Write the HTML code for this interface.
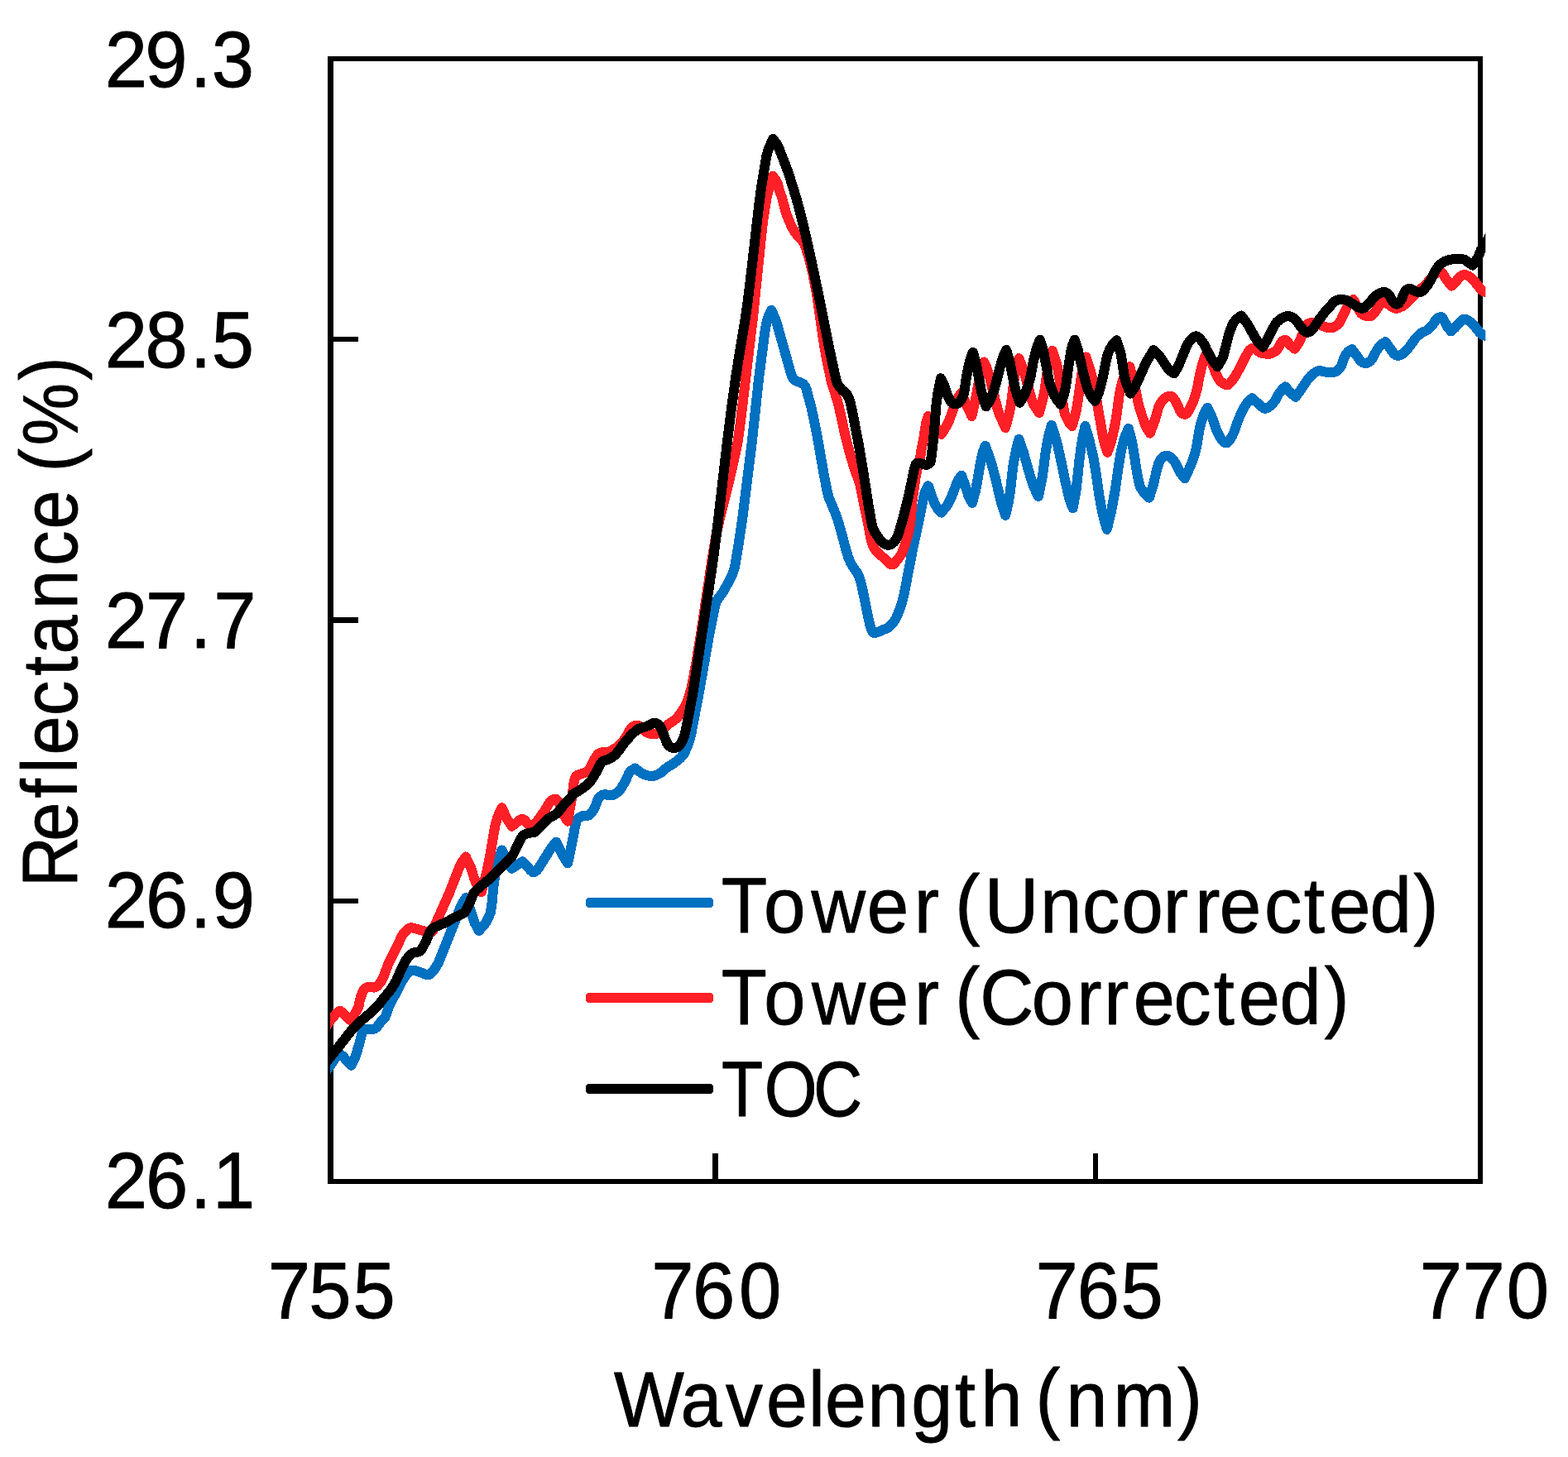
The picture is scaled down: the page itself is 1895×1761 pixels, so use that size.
<!DOCTYPE html>
<html lang="en"><head><meta charset="utf-8"><title>Reflectance vs Wavelength</title>
<style>html,body{margin:0;padding:0;background:#fff;overflow:hidden}svg{display:block}text{white-space:pre;font-family:"Liberation Sans",sans-serif;fill:#000;stroke:#000;stroke-width:0.9px;stroke-linejoin:round}</style></head><body>
<svg width="1895" height="1761" viewBox="0 0 1895 1761" role="img" aria-label="Reflectance (%) versus Wavelength (nm) for Tower (Uncorrected), Tower (Corrected) and TOC">
<rect x="0" y="0" width="1895" height="1761" fill="#fff"/>
<defs><clipPath id="plot"><rect x="399.0" y="0" width="1396.3" height="1761"/></clipPath></defs>
<g fill="#000" shape-rendering="crispEdges">
<rect x="396" y="68" width="7" height="1363"/>
<rect x="1786" y="68" width="6" height="1363"/>
<rect x="397" y="68" width="1395" height="6"/>
<rect x="396" y="1425" width="1396" height="6"/>
<rect x="403" y="407" width="30" height="6"/>
<rect x="403" y="746" width="30" height="7"/>
<rect x="403" y="1086" width="30" height="6"/>
<rect x="861" y="1394" width="7" height="31"/>
<rect x="1321" y="1394" width="6" height="31"/>
</g>
<g clip-path="url(#plot)" fill="none" stroke-width="12" stroke-linecap="round" stroke-linejoin="round" shape-rendering="crispEdges">
<path stroke="#0070C0" d="M392.0 1298.0 L405.0 1279.4 L408.0 1276.0 L410.9 1273.6 L415.0 1277.2 L419.5 1282.5 L424.5 1287.7 L428.0 1281.1 L430.0 1275.9 L434.3 1261.3 L437.3 1249.5 L438.1 1247.2 L439.1 1245.4 L440.1 1244.6 L441.2 1244.1 L443.6 1243.6 L450.0 1243.9 L451.8 1243.6 L453.7 1242.8 L455.2 1241.6 L460.0 1235.4 L464.1 1231.1 L465.4 1229.4 L466.5 1227.0 L469.4 1218.3 L471.6 1213.7 L484.3 1188.9 L486.8 1184.4 L489.3 1180.6 L493.0 1175.6 L495.0 1173.7 L497.3 1172.6 L500.0 1172.5 L503.1 1173.4 L516.0 1178.2 L518.1 1178.2 L520.5 1176.8 L522.9 1174.5 L527.1 1168.6 L529.3 1164.7 L531.3 1160.2 L549.0 1115.8 L555.3 1099.2 L558.3 1092.8 L562.9 1085.2 L568.8 1100.6 L572.5 1112.2 L573.8 1115.7 L578.8 1124.9 L584.9 1118.2 L586.7 1115.7 L590.0 1110.0 L591.4 1106.8 L592.7 1103.0 L594.1 1095.6 L596.6 1069.3 L599.5 1051.3 L600.6 1046.0 L602.6 1038.4 L604.6 1032.2 L606.6 1027.5 L611.0 1037.9 L612.5 1041.0 L618.5 1049.8 L631.4 1041.4 L641.8 1052.4 L643.5 1053.9 L645.3 1054.3 L648.5 1052.3 L651.9 1047.7 L666.2 1024.8 L672.2 1017.6 L680.1 1033.9 L686.1 1043.4 L689.9 1026.0 L695.5 996.8 L696.5 993.1 L697.9 990.2 L699.2 988.8 L700.6 987.7 L703.9 986.2 L705.8 985.8 L709.9 985.8 L711.8 985.2 L713.5 984.0 L715.0 982.3 L717.8 978.3 L719.3 974.9 L722.1 967.3 L723.7 964.3 L725.1 962.9 L728.0 960.9 L729.7 960.4 L732.0 960.3 L737.2 961.4 L739.6 961.4 L741.8 960.6 L743.8 959.5 L745.7 958.1 L747.6 956.4 L749.8 953.9 L751.8 950.9 L755.5 944.5 L759.9 935.0 L761.5 932.5 L762.9 931.3 L767.5 928.6 L773.4 933.2 L775.4 934.5 L779.3 936.4 L781.3 937.0 L785.3 937.8 L789.3 937.8 L791.3 937.5 L795.3 935.9 L799.3 933.5 L807.2 926.6 L810.9 924.8 L817.3 920.4 L822.6 916.0 L825.4 912.9 L826.6 911.1 L830.3 903.3 L834.0 892.5 L835.2 887.8 L844.4 839.6 L858.0 762.4 L864.5 730.9 L865.3 728.3 L866.3 726.1 L868.8 722.2 L873.9 715.6 L879.8 704.7 L885.6 692.9 L886.7 690.0 L888.3 683.7 L892.3 660.2 L897.4 625.2 L908.9 533.2 L917.0 458.1 L923.8 405.4 L925.1 396.7 L926.8 387.9 L928.5 383.0 L932.2 375.0 L936.0 383.0 L938.6 390.0 L955.6 450.3 L957.8 456.4 L958.5 457.8 L959.5 459.0 L960.7 459.9 L968.6 462.8 L970.7 464.0 L973.1 466.7 L974.5 470.2 L980.4 492.2 L984.7 512.1 L988.8 533.6 L995.7 573.5 L999.2 591.6 L1000.9 598.8 L1002.0 602.1 L1009.9 621.1 L1012.2 627.5 L1017.5 646.0 L1022.8 666.0 L1025.6 674.9 L1028.2 680.6 L1031.1 685.6 L1036.6 693.2 L1038.5 697.8 L1040.7 705.2 L1042.0 710.6 L1049.6 747.6 L1051.6 756.3 L1053.2 761.0 L1054.5 763.3 L1055.3 764.2 L1056.2 764.8 L1057.3 765.0 L1061.3 763.9 L1066.4 761.4 L1070.6 759.9 L1073.4 758.4 L1076.2 756.2 L1078.8 753.6 L1082.2 748.6 L1084.2 744.5 L1087.6 735.9 L1090.4 727.0 L1092.9 716.7 L1103.5 661.7 L1111.2 626.5 L1115.6 603.9 L1117.4 596.4 L1118.8 592.4 L1119.5 591.0 L1121.8 587.3 L1126.2 600.5 L1130.1 609.7 L1132.7 614.2 L1137.6 619.7 L1143.8 612.1 L1145.6 609.4 L1147.3 606.3 L1151.6 596.5 L1156.0 584.6 L1157.5 581.2 L1161.9 574.6 L1166.5 586.4 L1170.4 599.4 L1175.0 608.0 L1179.4 591.6 L1183.4 567.9 L1186.3 552.6 L1188.1 545.6 L1190.7 538.8 L1195.7 552.5 L1198.8 562.3 L1203.2 578.6 L1209.2 604.5 L1215.2 622.9 L1219.0 605.8 L1220.1 599.6 L1221.2 591.4 L1224.1 565.5 L1226.0 553.8 L1228.1 543.4 L1231.4 530.9 L1237.0 546.9 L1243.0 568.6 L1247.4 583.0 L1250.4 590.8 L1254.9 600.0 L1259.9 575.8 L1263.8 545.2 L1265.8 534.2 L1267.8 524.5 L1270.8 514.0 L1275.3 527.7 L1278.3 538.8 L1282.7 558.7 L1287.2 580.7 L1291.2 598.0 L1293.7 606.9 L1296.6 614.3 L1300.6 592.1 L1304.6 555.0 L1306.5 540.6 L1308.6 527.9 L1311.5 515.0 L1316.5 531.9 L1321.1 551.4 L1324.1 568.3 L1328.4 598.4 L1330.9 612.2 L1333.4 624.3 L1337.8 639.8 L1342.4 620.9 L1345.4 605.5 L1348.3 588.5 L1352.7 557.8 L1355.4 543.1 L1357.9 533.2 L1359.2 528.8 L1363.8 517.9 L1368.2 534.2 L1374.7 574.7 L1376.2 582.4 L1378.1 588.5 L1379.5 591.1 L1380.9 593.3 L1384.0 596.9 L1388.9 601.7 L1393.9 585.7 L1397.9 568.3 L1400.6 558.9 L1401.9 556.4 L1403.0 554.8 L1405.5 552.2 L1406.8 551.4 L1409.2 550.7 L1411.8 551.0 L1413.8 552.1 L1415.9 553.9 L1417.9 556.1 L1419.8 558.4 L1421.4 561.1 L1425.7 570.3 L1431.7 578.3 L1437.8 565.4 L1439.6 561.1 L1442.9 552.0 L1445.6 542.5 L1446.7 536.6 L1449.6 518.6 L1451.5 511.0 L1453.5 504.5 L1455.7 498.8 L1457.2 496.0 L1459.5 492.8 L1465.5 506.2 L1469.8 518.8 L1471.4 522.6 L1474.3 528.2 L1475.8 530.6 L1478.6 533.7 L1479.8 534.7 L1481.1 535.4 L1482.4 535.5 L1484.1 534.4 L1486.0 532.2 L1489.3 526.6 L1491.0 523.0 L1495.3 510.7 L1498.2 503.5 L1501.2 496.8 L1504.1 491.5 L1507.2 486.9 L1508.6 485.3 L1513.2 481.3 L1525.0 491.7 L1527.0 493.2 L1529.1 493.8 L1531.6 493.1 L1534.2 491.4 L1539.0 486.8 L1540.8 484.5 L1545.0 476.8 L1547.5 473.2 L1549.9 470.2 L1553.3 467.3 L1558.9 473.9 L1565.8 479.9 L1572.8 470.3 L1577.2 463.3 L1580.6 458.6 L1584.6 453.9 L1588.6 450.7 L1592.7 448.5 L1594.7 448.1 L1596.0 448.1 L1600.0 449.3 L1603.5 449.8 L1608.9 450.0 L1612.5 449.8 L1614.2 449.3 L1617.2 447.3 L1619.9 444.3 L1621.5 441.2 L1624.1 433.3 L1625.6 430.1 L1626.6 428.4 L1628.7 425.7 L1629.8 424.6 L1634.1 422.3 L1643.9 435.8 L1645.4 437.2 L1646.8 438.0 L1649.7 439.0 L1651.1 439.1 L1652.6 438.7 L1654.0 438.0 L1656.8 435.8 L1658.4 433.7 L1663.5 424.1 L1666.7 419.3 L1668.8 417.1 L1671.0 415.3 L1674.5 413.1 L1683.7 426.4 L1685.2 428.0 L1687.6 429.4 L1688.9 429.7 L1690.1 429.8 L1691.7 429.5 L1695.0 427.7 L1698.4 424.9 L1703.6 418.8 L1710.7 408.8 L1714.2 405.3 L1717.8 402.4 L1723.2 399.9 L1724.9 398.9 L1726.8 397.3 L1732.0 391.8 L1735.1 386.7 L1736.3 385.4 L1739.0 383.7 L1740.5 383.2 L1741.8 383.2 L1743.0 384.0 L1744.1 385.5 L1749.5 395.2 L1753.6 400.4 L1758.5 396.1 L1762.2 391.4 L1766.2 387.5 L1767.6 386.5 L1769.1 385.9 L1770.4 385.9 L1771.8 386.2 L1774.5 387.3 L1778.0 389.9 L1781.0 392.9 L1788.3 401.9 L1791.4 404.5 L1792.9 405.3 L1795.7 406.1 L1802.0 407.0"/>
<path stroke="#FF1F26" d="M392.0 1244.0 L396.0 1238.5 L399.0 1233.6 L401.8 1230.2 L406.4 1224.9 L408.5 1223.2 L410.9 1221.8 L415.4 1225.0 L421.8 1231.7 L423.6 1233.2 L427.2 1228.2 L432.9 1218.2 L433.5 1216.1 L434.8 1209.1 L436.2 1204.3 L438.5 1198.1 L439.5 1196.5 L441.5 1194.6 L444.1 1193.2 L445.9 1193.0 L451.8 1193.6 L454.4 1192.9 L456.5 1191.3 L460.3 1186.8 L462.1 1183.7 L463.7 1180.0 L469.4 1164.7 L471.7 1159.8 L479.4 1144.8 L485.2 1132.3 L487.3 1128.9 L489.0 1126.7 L492.7 1123.0 L495.0 1121.6 L497.3 1121.3 L499.7 1121.7 L517.1 1126.6 L520.7 1127.0 L522.1 1126.5 L523.4 1124.7 L527.1 1115.0 L543.0 1079.2 L555.3 1047.8 L558.3 1042.0 L562.9 1035.5 L568.8 1048.2 L573.2 1061.6 L574.8 1065.9 L576.4 1069.1 L581.7 1078.2 L587.1 1058.7 L588.7 1052.0 L591.9 1035.6 L597.6 1002.5 L598.6 997.4 L600.5 990.4 L602.6 984.3 L606.6 976.2 L611.5 987.7 L618.5 998.7 L628.5 990.9 L630.0 990.0 L631.4 989.8 L633.0 990.4 L634.5 991.9 L642.4 1000.7 L650.3 991.0 L654.3 985.5 L658.3 979.8 L664.1 970.1 L666.2 967.9 L667.7 966.9 L669.2 966.1 L670.8 965.7 L672.2 965.9 L673.9 967.5 L675.4 970.3 L682.1 986.4 L686.1 992.7 L691.9 959.4 L693.4 947.4 L694.3 942.2 L695.9 938.5 L697.2 937.3 L698.7 936.6 L707.9 933.7 L709.8 932.5 L712.1 929.8 L717.8 918.6 L722.1 912.1 L723.7 910.7 L725.2 909.9 L726.7 909.5 L729.7 909.1 L733.1 909.6 L734.3 909.5 L735.9 909.0 L742.8 904.9 L746.5 902.5 L750.2 899.1 L753.9 894.7 L757.2 889.8 L760.1 884.4 L762.4 880.9 L764.0 878.8 L765.7 877.6 L767.4 877.2 L770.5 877.0 L772.6 877.3 L773.5 877.7 L776.0 879.7 L779.4 883.9 L781.8 885.4 L784.5 886.5 L787.0 886.9 L792.2 886.9 L794.7 886.5 L796.0 885.9 L799.8 883.1 L807.5 875.8 L810.1 873.7 L815.2 870.3 L819.1 866.6 L823.0 861.5 L826.9 855.2 L829.5 850.5 L830.6 848.1 L832.0 844.1 L835.6 831.1 L841.3 801.8 L848.3 758.1 L860.5 676.3 L865.6 646.5 L870.2 625.2 L880.8 582.9 L885.0 565.2 L888.9 547.5 L891.7 533.2 L894.9 510.2 L910.0 383.2 L919.6 290.1 L922.2 266.8 L926.4 239.3 L929.9 226.1 L933.9 212.8 L938.1 218.5 L939.2 220.5 L940.0 222.7 L941.8 229.9 L945.2 239.3 L949.1 254.3 L951.2 260.8 L954.6 269.2 L957.8 275.9 L960.7 280.9 L963.9 284.8 L969.3 290.3 L971.4 293.6 L974.1 300.0 L978.4 314.3 L982.0 329.3 L986.2 350.7 L988.3 363.5 L993.0 397.4 L996.2 418.2 L999.3 435.4 L1003.8 456.8 L1005.8 465.2 L1010.0 478.0 L1013.7 490.7 L1022.0 528.6 L1026.3 545.3 L1032.7 567.0 L1039.0 583.9 L1050.4 640.0 L1052.6 652.0 L1053.6 655.8 L1055.5 660.7 L1056.6 662.8 L1059.1 666.4 L1063.5 670.5 L1068.7 674.8 L1073.2 679.5 L1075.6 681.4 L1077.4 682.4 L1078.4 682.5 L1080.0 681.7 L1081.8 679.9 L1086.6 673.9 L1089.2 669.8 L1090.3 667.7 L1092.1 663.1 L1095.3 653.4 L1097.8 644.3 L1099.4 636.9 L1100.4 630.2 L1101.3 621.5 L1102.5 605.2 L1106.8 575.4 L1108.7 566.4 L1112.2 552.4 L1113.9 541.3 L1116.5 528.5 L1119.2 511.0 L1121.7 503.0 L1129.7 515.0 L1137.6 524.9 L1143.7 515.3 L1145.6 511.7 L1147.7 506.7 L1153.5 490.6 L1156.1 484.5 L1158.5 479.5 L1161.9 474.8 L1167.5 488.2 L1174.4 503.0 L1179.4 480.2 L1183.8 456.9 L1185.3 450.2 L1189.3 437.5 L1193.1 446.2 L1195.6 453.9 L1203.0 484.3 L1205.0 492.0 L1207.2 499.1 L1209.1 503.9 L1215.2 517.0 L1219.8 498.9 L1221.1 492.7 L1222.3 485.2 L1225.1 462.6 L1227.2 449.0 L1228.9 441.8 L1231.4 433.1 L1237.0 447.0 L1243.0 469.3 L1247.2 483.8 L1248.9 488.1 L1250.5 491.1 L1255.9 499.1 L1260.5 481.1 L1261.9 475.0 L1263.0 468.4 L1265.8 448.8 L1268.0 436.3 L1269.5 430.4 L1271.8 423.9 L1275.6 434.7 L1277.9 443.3 L1280.7 459.3 L1284.9 490.6 L1286.7 499.1 L1287.8 502.4 L1290.4 507.7 L1292.6 511.4 L1295.6 515.0 L1299.5 501.5 L1300.6 496.7 L1301.8 490.4 L1307.5 450.9 L1309.5 441.5 L1312.5 431.5 L1317.1 445.3 L1320.1 457.1 L1324.5 479.2 L1333.3 529.5 L1335.3 537.5 L1338.4 546.8 L1342.4 535.2 L1343.9 529.6 L1346.9 516.2 L1348.3 509.0 L1349.8 499.3 L1352.6 478.3 L1354.3 469.3 L1355.6 464.0 L1358.6 455.0 L1361.4 448.9 L1365.2 443.0 L1370.2 460.6 L1376.1 489.1 L1379.2 499.6 L1384.1 514.1 L1386.1 517.8 L1389.9 523.6 L1395.9 507.4 L1400.0 492.9 L1401.9 488.8 L1403.6 486.0 L1405.6 483.5 L1407.7 481.4 L1409.8 479.9 L1412.8 478.7 L1414.3 478.6 L1415.8 478.9 L1417.7 480.4 L1419.5 483.0 L1422.7 488.8 L1426.3 496.8 L1427.7 498.8 L1428.9 499.7 L1430.1 500.4 L1431.4 500.8 L1432.7 500.7 L1434.5 499.4 L1436.3 496.9 L1441.3 487.2 L1444.3 479.1 L1446.8 470.0 L1449.6 455.0 L1452.5 442.5 L1454.5 436.1 L1456.5 430.3 L1459.5 424.2 L1463.9 436.9 L1469.2 450.8 L1471.3 455.4 L1473.4 459.0 L1476.4 462.0 L1481.3 465.1 L1482.3 465.4 L1483.4 465.4 L1485.2 464.3 L1487.3 462.2 L1491.3 457.0 L1493.4 453.8 L1499.3 443.1 L1507.6 426.8 L1508.8 424.8 L1510.2 423.2 L1512.5 421.4 L1513.8 420.8 L1515.2 420.6 L1517.0 421.4 L1521.0 424.9 L1523.1 426.2 L1525.1 426.9 L1527.2 427.3 L1532.1 427.9 L1535.0 427.6 L1539.0 426.0 L1541.1 424.7 L1543.0 423.2 L1544.7 420.9 L1547.5 415.4 L1548.9 413.3 L1551.1 411.5 L1552.2 411.0 L1553.3 410.9 L1554.7 411.7 L1558.9 416.7 L1564.8 421.6 L1569.4 414.9 L1570.8 412.4 L1575.8 399.4 L1578.0 394.8 L1579.3 392.9 L1580.7 391.4 L1582.3 390.6 L1584.0 390.0 L1587.7 389.8 L1590.0 390.4 L1598.4 394.1 L1604.2 395.8 L1607.1 396.2 L1609.9 396.1 L1611.4 395.8 L1613.2 394.9 L1615.0 393.6 L1618.5 390.4 L1620.1 387.9 L1628.4 370.1 L1631.6 365.6 L1633.4 363.7 L1635.5 362.0 L1643.8 377.1 L1645.4 379.0 L1646.8 380.0 L1649.6 381.4 L1652.5 382.1 L1655.4 382.2 L1656.8 381.8 L1658.3 380.9 L1659.7 379.5 L1663.9 374.1 L1668.1 367.4 L1673.1 362.0 L1678.1 367.8 L1682.3 371.2 L1683.8 371.9 L1686.2 372.6 L1688.7 372.6 L1690.6 372.1 L1694.6 370.3 L1698.4 367.5 L1710.7 354.9 L1723.5 343.5 L1729.2 336.4 L1733.3 331.8 L1736.6 329.9 L1738.4 329.1 L1740.3 328.8 L1742.0 329.0 L1743.6 330.3 L1747.6 337.3 L1754.1 345.7 L1759.0 341.2 L1762.3 336.8 L1764.8 334.4 L1767.5 332.6 L1768.9 332.2 L1771.7 332.4 L1775.7 334.2 L1779.1 337.0 L1782.7 341.0 L1788.3 348.1 L1791.4 351.1 L1792.9 352.1 L1795.7 353.3 L1802.0 355.0"/>
<path stroke="#000" d="M392.0 1286.5 L409.3 1265.2 L425.4 1244.5 L429.9 1239.8 L434.5 1235.4 L448.2 1223.8 L452.7 1219.8 L458.4 1213.4 L463.7 1206.4 L470.1 1198.9 L474.1 1193.5 L479.0 1185.1 L485.3 1170.6 L489.2 1163.1 L491.2 1159.6 L494.7 1155.1 L497.6 1152.7 L499.3 1151.7 L501.1 1151.2 L505.3 1150.6 L507.2 1149.7 L509.5 1147.4 L511.5 1144.0 L515.2 1136.8 L519.4 1126.6 L521.1 1123.9 L522.9 1122.3 L524.8 1121.0 L531.5 1117.9 L539.0 1115.0 L548.9 1109.0 L558.3 1104.9 L560.9 1103.0 L562.7 1100.9 L564.2 1098.5 L568.3 1089.7 L571.1 1082.4 L572.8 1079.2 L574.6 1076.9 L576.5 1075.0 L583.1 1069.2 L590.7 1063.3 L593.2 1060.9 L608.6 1045.4 L616.2 1038.3 L618.5 1035.5 L620.7 1031.7 L629.2 1014.0 L630.7 1011.6 L632.4 1009.6 L634.2 1008.5 L636.3 1007.7 L640.4 1006.6 L644.9 1006.2 L646.3 1005.7 L648.3 1004.2 L658.1 993.6 L662.2 989.8 L664.6 988.2 L669.7 985.5 L672.2 983.8 L674.8 981.1 L682.1 971.9 L690.1 963.9 L691.9 960.4 L693.8 958.9 L699.2 956.0 L704.4 952.6 L709.5 948.7 L711.8 946.5 L714.0 943.8 L716.0 940.8 L719.8 934.5 L725.9 923.0 L727.7 920.6 L728.3 920.2 L733.2 918.6 L736.8 917.1 L739.9 915.2 L742.8 912.9 L745.8 909.7 L748.7 906.1 L753.2 899.6 L756.2 895.7 L763.3 888.0 L768.3 883.3 L770.9 881.4 L772.1 880.8 L781.1 878.0 L788.8 874.2 L790.0 873.8 L791.3 873.7 L792.6 874.0 L795.3 875.4 L797.4 877.5 L799.0 880.5 L800.7 884.4 L805.8 897.7 L807.5 900.3 L810.1 902.7 L812.1 903.6 L814.3 903.9 L816.9 903.7 L819.4 902.7 L821.7 900.5 L824.7 895.6 L827.1 889.0 L828.5 883.7 L831.0 871.7 L837.6 836.5 L861.4 680.0 L867.4 633.7 L879.0 533.1 L884.1 492.2 L890.1 449.6 L901.0 383.2 L903.1 368.9 L907.4 333.7 L917.3 247.4 L920.5 223.3 L926.4 188.1 L929.0 179.6 L934.1 167.9 L938.3 173.4 L940.9 178.0 L949.7 200.5 L953.2 210.2 L957.5 223.7 L962.5 240.3 L966.3 254.1 L973.1 281.6 L981.8 320.9 L989.0 355.0 L1002.6 422.7 L1010.5 459.4 L1011.6 462.6 L1012.7 464.8 L1015.3 468.6 L1018.1 471.7 L1021.2 474.0 L1022.6 475.4 L1023.9 477.3 L1026.0 481.5 L1027.8 486.9 L1031.2 503.1 L1038.5 541.2 L1042.1 562.6 L1049.4 609.5 L1052.9 630.0 L1054.5 637.1 L1055.4 639.4 L1057.6 643.6 L1060.1 647.6 L1062.9 651.6 L1065.5 654.6 L1068.1 656.8 L1070.5 658.1 L1072.8 658.8 L1075.2 658.5 L1076.6 658.0 L1079.2 656.3 L1080.5 655.1 L1082.8 652.1 L1085.2 647.4 L1092.0 624.3 L1098.0 600.1 L1104.6 568.2 L1106.3 562.5 L1106.9 561.0 L1107.8 560.0 L1108.7 559.7 L1109.8 559.7 L1113.1 560.3 L1117.4 561.5 L1119.5 561.8 L1120.5 561.7 L1122.4 560.8 L1123.3 560.1 L1124.0 559.2 L1124.6 557.9 L1126.0 549.0 L1128.3 528.9 L1131.7 486.5 L1134.1 471.1 L1137.0 457.3 L1141.6 467.0 L1145.3 478.0 L1146.6 481.2 L1149.5 486.1 L1151.5 487.8 L1153.5 488.5 L1155.8 488.3 L1158.3 487.1 L1159.5 486.1 L1160.9 484.5 L1162.3 482.3 L1164.5 477.2 L1165.5 473.0 L1167.5 458.5 L1170.4 442.8 L1173.0 433.0 L1175.8 425.9 L1179.4 438.1 L1186.2 473.8 L1188.4 481.8 L1191.7 491.5 L1195.9 484.6 L1197.3 482.0 L1200.4 474.1 L1203.2 465.3 L1208.2 445.2 L1211.1 434.8 L1213.1 429.4 L1216.1 422.9 L1220.1 435.9 L1224.1 456.5 L1227.0 470.0 L1229.1 477.4 L1232.6 486.7 L1237.5 478.4 L1239.0 475.4 L1242.2 466.7 L1245.0 457.3 L1246.1 452.2 L1248.9 436.6 L1251.8 424.5 L1253.9 418.1 L1256.9 410.6 L1260.9 423.8 L1267.1 456.2 L1268.3 462.0 L1269.8 467.3 L1272.6 474.4 L1275.8 480.6 L1277.2 482.8 L1281.7 488.7 L1285.6 477.4 L1286.7 473.5 L1288.4 464.3 L1291.9 438.8 L1294.1 426.0 L1295.6 419.0 L1298.6 410.6 L1302.6 422.4 L1310.4 455.8 L1313.5 467.3 L1315.9 473.5 L1318.5 478.6 L1319.7 480.3 L1323.5 484.8 L1327.3 476.3 L1329.8 468.6 L1333.4 453.4 L1337.0 434.8 L1338.4 429.5 L1339.5 426.3 L1340.7 423.5 L1343.3 418.4 L1344.7 416.4 L1349.3 411.2 L1353.2 422.8 L1354.3 426.8 L1355.2 431.4 L1358.6 452.9 L1360.2 460.1 L1361.5 464.0 L1366.2 475.6 L1372.2 466.9 L1383.9 440.8 L1387.9 433.3 L1393.9 423.2 L1399.9 429.0 L1401.9 431.2 L1404.0 434.1 L1409.8 443.1 L1412.7 446.9 L1415.0 448.9 L1418.8 451.4 L1422.5 445.4 L1425.2 440.0 L1434.0 418.4 L1435.7 415.3 L1437.1 413.2 L1440.1 409.6 L1443.6 406.9 L1444.5 406.4 L1445.6 406.3 L1447.5 407.1 L1449.6 408.8 L1453.5 413.3 L1455.2 416.0 L1459.5 425.2 L1463.9 433.2 L1466.9 437.6 L1471.4 443.1 L1476.1 435.7 L1477.4 433.0 L1478.6 429.7 L1485.3 403.4 L1488.1 395.9 L1489.7 392.4 L1491.3 389.4 L1493.7 386.4 L1497.3 383.3 L1500.2 381.5 L1507.2 390.8 L1516.1 406.6 L1519.1 411.5 L1526.1 419.6 L1532.0 409.9 L1537.0 399.4 L1541.3 391.7 L1543.0 389.4 L1546.8 386.0 L1550.9 383.5 L1553.9 382.4 L1556.9 382.1 L1558.9 382.5 L1563.0 384.2 L1564.8 385.5 L1566.5 387.2 L1570.8 393.4 L1575.3 399.1 L1576.8 400.4 L1578.7 401.5 L1580.7 401.8 L1582.2 401.2 L1583.7 400.2 L1586.7 397.4 L1588.7 394.9 L1594.7 385.5 L1600.8 377.7 L1612.4 364.7 L1614.2 363.4 L1615.9 362.7 L1617.7 362.2 L1621.3 362.0 L1623.1 362.1 L1626.6 362.8 L1630.2 364.3 L1641.2 371.2 L1644.0 372.3 L1645.4 372.6 L1646.8 372.6 L1648.6 371.9 L1650.5 370.7 L1653.9 367.6 L1659.6 360.5 L1663.8 356.6 L1665.3 355.6 L1668.2 354.1 L1671.0 353.2 L1673.1 352.9 L1675.2 353.7 L1676.7 354.9 L1679.5 357.7 L1680.6 359.4 L1682.6 363.3 L1683.8 364.8 L1686.2 366.9 L1687.5 367.5 L1688.7 367.6 L1690.1 366.9 L1692.6 363.7 L1694.5 360.2 L1695.8 356.5 L1697.2 353.6 L1698.5 351.5 L1700.3 349.9 L1702.5 349.0 L1703.6 348.9 L1705.0 349.2 L1711.5 352.3 L1713.6 353.0 L1716.9 353.0 L1717.8 352.7 L1718.9 352.0 L1722.7 347.9 L1725.7 344.0 L1728.7 339.0 L1734.8 327.2 L1737.8 322.6 L1741.0 319.2 L1743.2 317.5 L1745.6 316.1 L1749.5 314.5 L1755.2 313.4 L1763.2 313.0 L1767.8 313.3 L1770.0 313.9 L1770.9 314.4 L1776.8 318.8 L1779.6 320.5 L1782.2 317.4 L1784.2 314.3 L1786.7 309.7 L1789.8 302.2 L1794.1 296.1 L1802.0 282.0"/>
</g>
<g shape-rendering="crispEdges">
<rect x="708" y="1085" width="154" height="12" rx="4" ry="4" fill="#0070C0"/>
<rect x="708" y="1200" width="154" height="12" rx="4" ry="4" fill="#FF1F26"/>
<rect x="708" y="1310" width="154" height="12" rx="4" ry="4" fill="#000"/>
</g>
<text transform="translate(0 105.0) scale(0.9650 1)" x="131.26 181.50 238.03 264.97" y="0" font-size="95.5">29.3</text>
<text transform="translate(0 443.8) scale(0.9650 1)" x="131.26 181.89 238.03 265.09" y="0" font-size="95.5">28.5</text>
<text transform="translate(0 783.0) scale(0.9650 1)" x="131.26 182.31 238.03 267.75" y="0" font-size="95.5">27.7</text>
<text transform="translate(0 1120.9) scale(0.9650 1)" x="131.26 182.29 238.03 266.13" y="0" font-size="95.5">26.9</text>
<text transform="translate(0 1460.0) scale(0.9650 1)" x="131.26 182.29 238.03 266.27" y="0" font-size="95.5">26.1</text>
<text transform="translate(0 1593.3) scale(0.9650 1)" x="335.52 386.80 442.09" y="0" font-size="95.5">755</text>
<text transform="translate(0 1593.3) scale(0.9650 1)" x="815.93 867.37 925.44" y="0" font-size="95.5">760</text>
<text transform="translate(0 1593.3) scale(0.9650 1)" x="1296.97 1348.92 1403.54" y="0" font-size="95.5">765</text>
<text transform="translate(0 1593.3) scale(0.9650 1)" x="1778.11 1831.58 1886.89" y="0" font-size="95.5">770</text>
<text transform="translate(0 1723.7) scale(0.9453 1)" x="785.04 870.11 927.79 979.48 1033.53 1054.70 1109.28 1165.11 1220.90 1254.07 1306.90 1323.88 1363.06 1423.26 1505.29" y="0 0 0 0 0 0 0 0 0 0 0 -2.3 0 0 -2.3" font-size="95.0">Wavelength (nm)</text>
<text transform="translate(0 1126.6) scale(0.9557 1)" x="912.13 965.85 1026.09 1096.37 1155.94 1187.57 1207.69 1244.97 1315.25 1368.75 1418.02 1470.88 1511.21 1542.15 1598.79 1648.87 1680.32 1732.35 1787.41" y="0 0 0 0 0 0 -2.3 0 0 0 0 0 0 0 0 0 0 0 -2.3" font-size="95.0">Tower (Uncorrected)</text>
<text transform="translate(0 1237.8) scale(0.9499 1)" x="917.77 971.97 1032.63 1103.29 1163.17 1194.81 1215.25 1246.78 1312.49 1370.25 1404.68 1442.07 1493.31 1544.15 1575.82 1628.17 1684.89" y="0 0 0 0 0 0 -2.3 0 0 0 0 0 0 0 0 0 -2.3" font-size="95.0">Tower (Corrected)</text>
<text transform="translate(0 1348.5) scale(0.8644 1)" x="1008.69 1068.59 1137.18" y="0" font-size="95.0">TOC</text>
<text transform="translate(93.3 1065.4) rotate(-90) scale(0.8913 1)" x="-7.34 54.63 112.85 146.78 171.43 224.85 278.94 308.50 369.47 428.27 477.96 530.79 555.64 591.47 679.54" y="0 0 0 0 0 0 0 0 0 0 0 0 -2.3 0 -2.3" font-size="95.0">Reflectance (%)</text>
</svg></body></html>
